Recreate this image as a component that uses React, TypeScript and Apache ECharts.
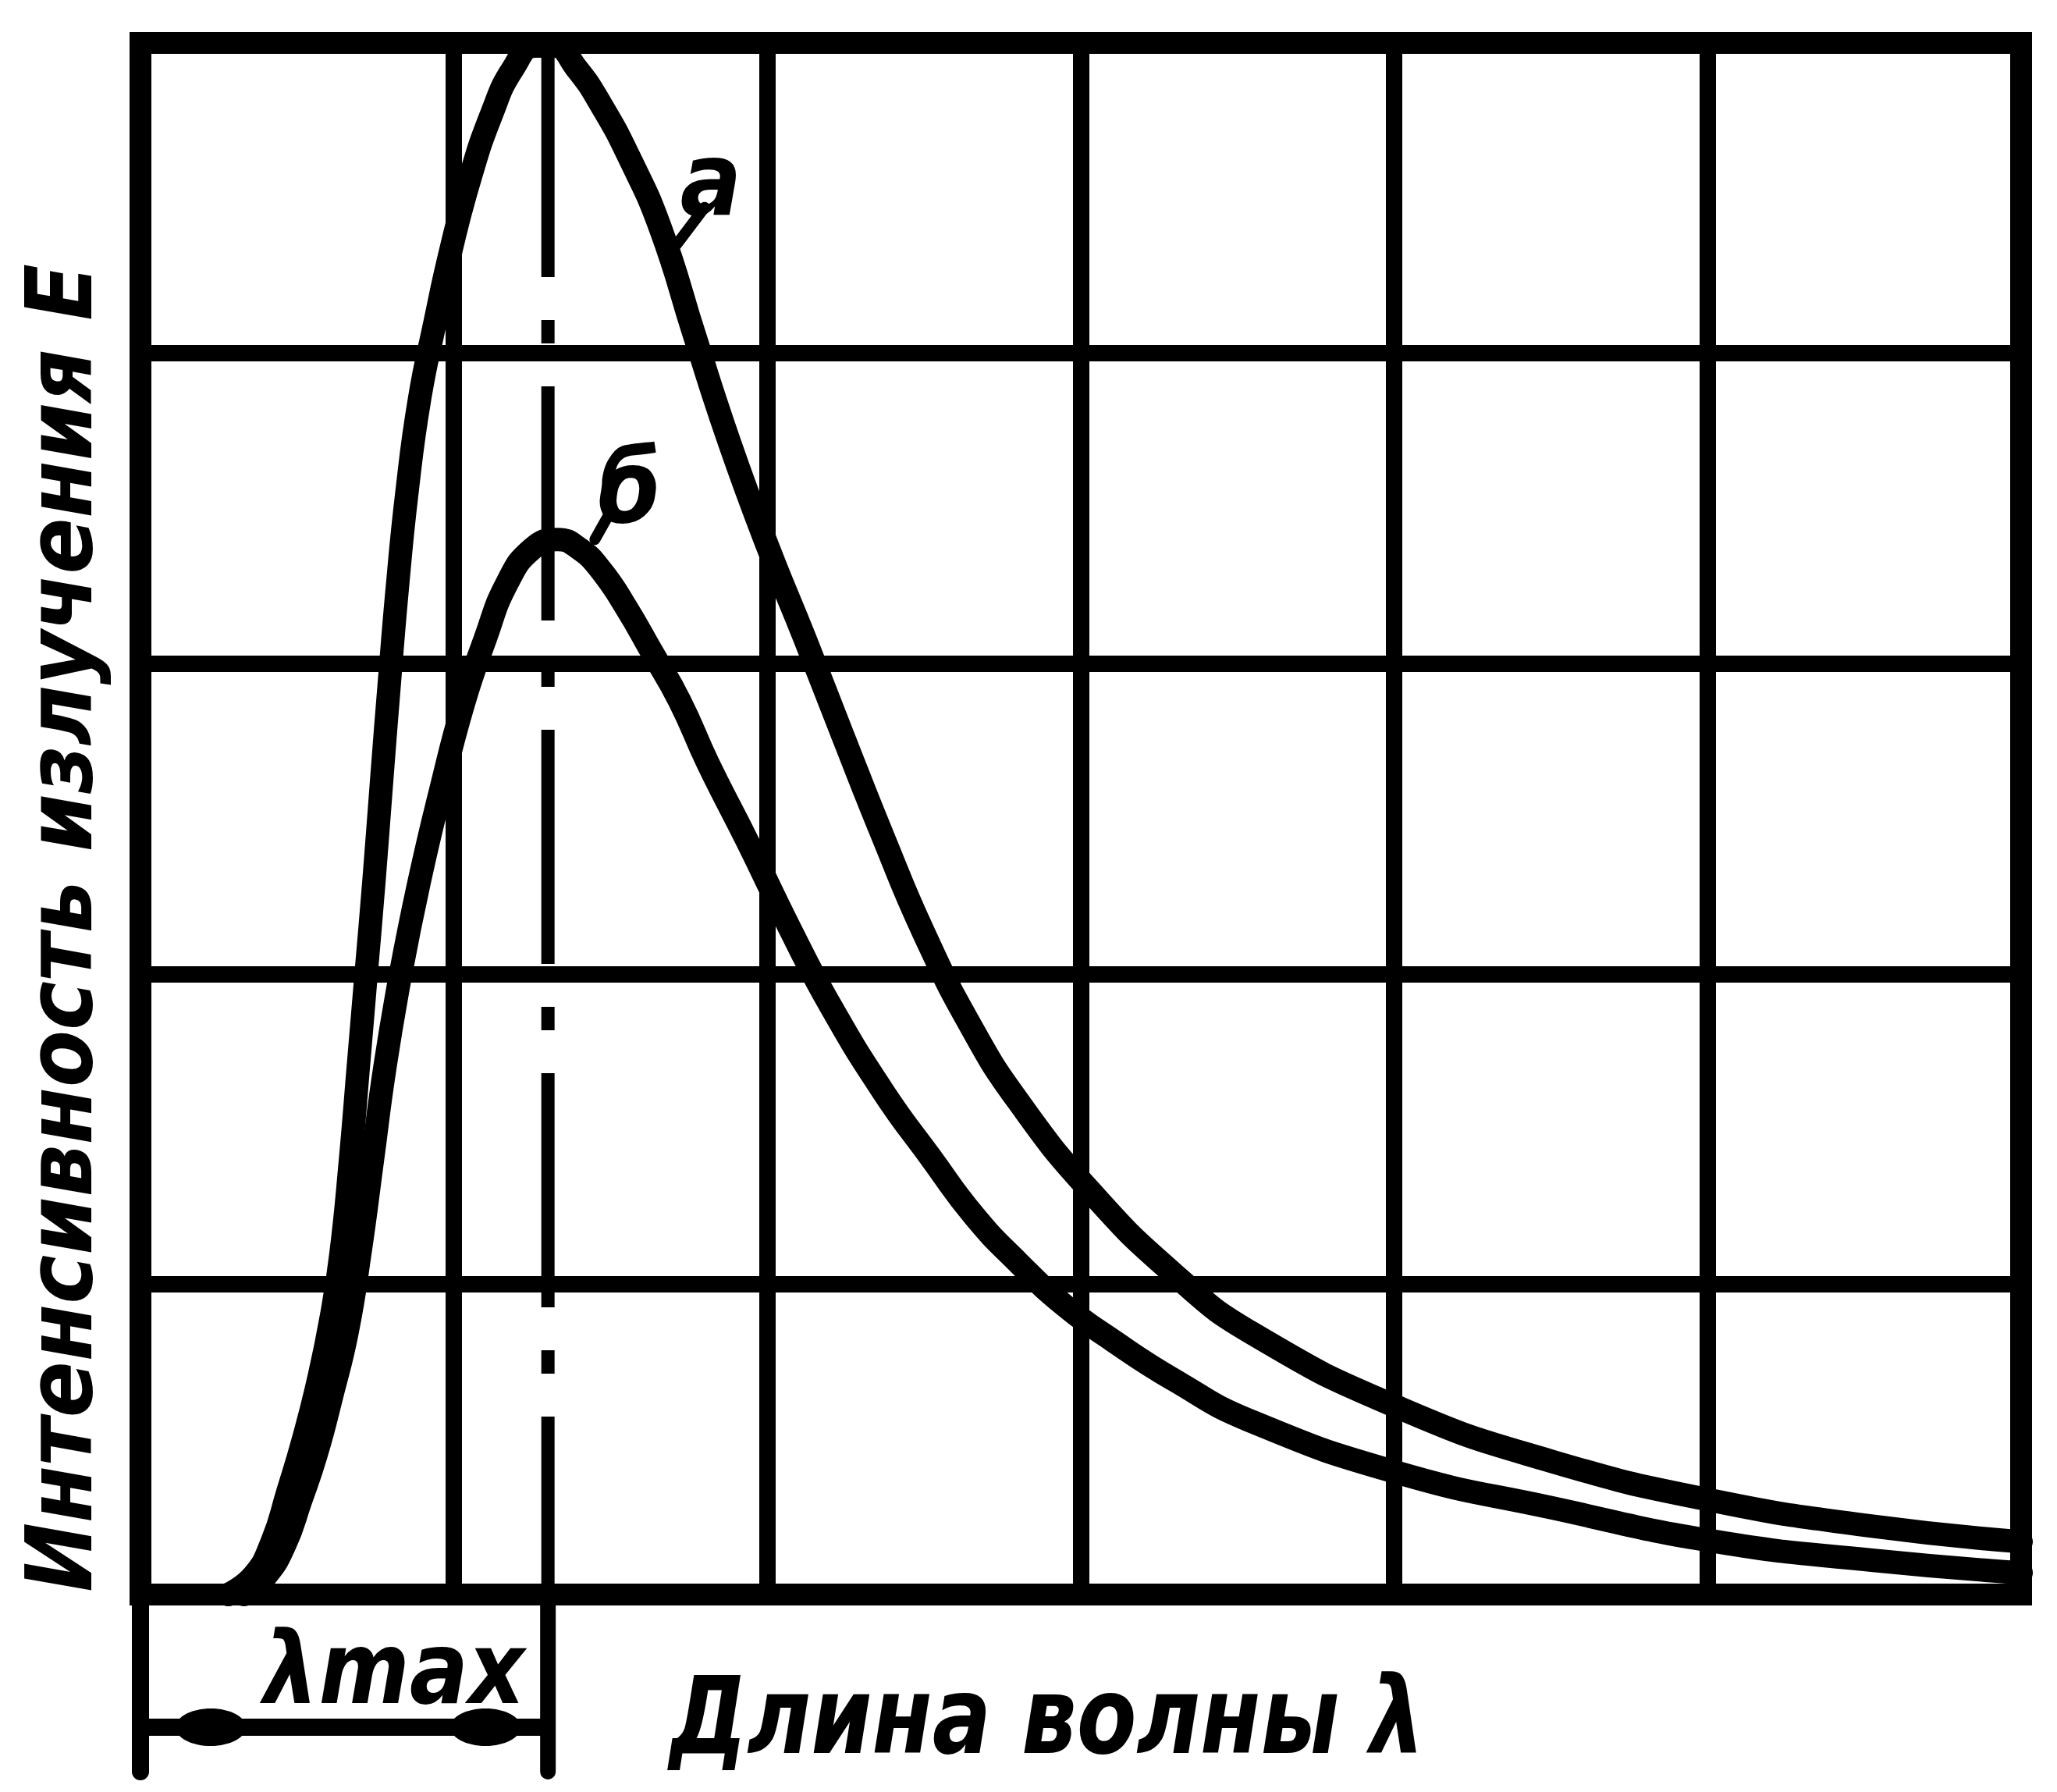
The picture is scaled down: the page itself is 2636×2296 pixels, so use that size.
import React, { useEffect, useRef } from "react";
import * as echarts from "echarts";

// Wavelength (grid units) and intensity (grid units)
const curveA: [number, number][] = [
  [0.28, 0], [0.36, 0.06], [0.42, 0.17], [0.47, 0.33], [0.52, 0.5], [0.57, 0.7],
  [0.61, 0.9], [0.64, 1.1], [0.67, 1.4], [0.695, 1.7], [0.72, 2.0], [0.745, 2.3],
  [0.77, 2.63], [0.795, 2.95], [0.82, 3.25], [0.85, 3.55], [0.89, 3.85], [0.94, 4.1],
  [0.99, 4.33], [1.05, 4.56], [1.12, 4.77], [1.19, 4.92], [1.26, 4.99], [1.32, 4.99],
  [1.39, 4.92], [1.47, 4.8], [1.56, 4.63], [1.66, 4.4], [1.77, 4.05], [1.88, 3.71],
  [2.0, 3.38], [2.12, 3.08], [2.24, 2.77], [2.37, 2.44], [2.5, 2.13], [2.65, 1.83],
  [2.8, 1.59], [3.03, 1.3], [3.3, 1.03], [3.55, 0.84], [4.02, 0.6], [4.5, 0.43],
  [5.03, 0.3], [5.53, 0.22], [6.0, 0.17],
];
const curveB: [number, number][] = [
  [0.33, 0], [0.4, 0.06], [0.46, 0.16], [0.51, 0.3], [0.56, 0.45], [0.61, 0.64],
  [0.66, 0.85], [0.7, 1.1], [0.74, 1.4], [0.78, 1.7], [0.83, 2.0], [0.89, 2.3],
  [0.96, 2.6], [1.03, 2.87], [1.1, 3.08], [1.17, 3.26], [1.25, 3.37], [1.33, 3.4],
  [1.4, 3.37], [1.47, 3.3], [1.55, 3.18], [1.63, 3.04], [1.72, 2.88], [1.81, 2.68],
  [1.94, 2.42], [2.07, 2.15], [2.2, 1.9], [2.37, 1.62], [2.52, 1.41], [2.66, 1.22],
  [2.8, 1.07], [2.95, 0.93], [3.1, 0.82], [3.3, 0.69], [3.54, 0.56], [4.02, 0.39],
  [4.5, 0.28], [5.03, 0.17], [5.53, 0.11], [6.0, 0.07],
];
const xRange = [0, 6];
const yRange = [0, 5];
const peakX = 1.3;
const curveNames = ["а", "б"];
const xAxisTitle = "Длина волны λ";
const yAxisTitle = "Интенсивность излучения E";
const peakTitle = "λmax";

const FONT = "'DejaVu Sans Condensed', 'DejaVu Sans', sans-serif";

export default function App() {
  const ref = useRef<HTMLDivElement>(null);
  useEffect(() => {
    document.body.style.margin = "0";
    const chart = echarts.init(ref.current!, null, { renderer: "svg" });
    chart.setOption({
      animation: false,
      backgroundColor: "#fff",
      grid: {
        left: 180, right: 46, top: 55, bottom: 253,
        show: true, borderColor: "#000", borderWidth: 28,
      },
      xAxis: {
        type: "value", min: xRange[0], max: xRange[1], interval: 1,
        axisLine: { show: false }, axisTick: { show: false }, axisLabel: { show: false },
        splitLine: { show: true, lineStyle: { color: "#000", width: 21 } },
      },
      yAxis: {
        type: "value", min: yRange[0], max: yRange[1], interval: 1,
        axisLine: { show: false }, axisTick: { show: false }, axisLabel: { show: false },
        splitLine: { show: true, lineStyle: { color: "#000", width: 21 } },
      },
      series: [
        {
          type: "line", name: "peak",
          data: [[peakX, yRange[1]], [peakX, yRange[0]]],
          symbol: "none",
          lineStyle: { color: "#000", width: 17, type: [300, 55, 30, 55] },
        },
        {
          type: "line", name: curveNames[0], data: curveA, symbol: "none",
          smooth: 0.5,
          lineStyle: { color: "#000", width: 30, cap: "round", join: "round" },
        },
        {
          type: "line", name: curveNames[1], data: curveB, symbol: "none",
          smooth: 0.5,
          lineStyle: { color: "#000", width: 30, cap: "round", join: "round" },
        },
      ],
    });

    const px = (x: number, y: number) => chart.convertToPixel({ gridIndex: 0 }, [x, y]) as number[];
    const [x0, yBase] = px(0, 0);
    const [xp] = px(peakX, 0);
    const extEnd = yBase + 227;
    const arrowY = yBase + 170;
    const textStyle = (t: string, size: number) => ({
      text: t, fill: "#000", font: `italic bold ${size}px ${FONT}`,
      textAlign: "center", textVerticalAlign: "middle",
    });
    const aPos = px(1.82, 4.56);
    const bPos = px(1.56, 3.57);
    const aL1 = px(1.8, 4.47), aL2 = px(1.71, 4.35);
    const bL1 = px(1.5, 3.49), bL2 = px(1.45, 3.4);
    const lineEl = (x1: number, y1: number, x2: number, y2: number, w: number) => ({
      type: "line", shape: { x1, y1, x2, y2 },
      style: { stroke: "#000", lineWidth: w, lineCap: "round" },
    });

    chart.setOption({
      graphic: [
        lineEl(x0, yBase, x0, extEnd, 22),
        lineEl(xp, yBase, xp, extEnd, 20),
        lineEl(x0 + 10, arrowY, xp - 8, arrowY, 22),
        { type: "ellipse", shape: { cx: x0 + 90, cy: arrowY, rx: 45, ry: 24 }, style: { fill: "#000" } },
        { type: "ellipse", shape: { cx: xp - 80, cy: arrowY, rx: 45, ry: 24 }, style: { fill: "#000" } },
        { type: "text", x: 505, y: yBase + 95, scaleX: 0.97, style: textStyle(peakTitle, 128) },
        { type: "text", x: 1342, y: yBase + 155, scaleX: 0.9, style: textStyle(xAxisTitle, 138) },
        { type: "text", x: 76, y: (55 + yBase) / 2 + 140, rotation: Math.PI / 2, style: textStyle(yAxisTitle, 118) },
        { type: "text", x: aPos[0], y: aPos[1], style: textStyle(curveNames[0], 130) },
        { type: "text", x: bPos[0], y: bPos[1], style: textStyle(curveNames[1], 130) },
        lineEl(aL1[0], aL1[1], aL2[0], aL2[1], 14),
        lineEl(bL1[0], bL1[1], bL2[0], bL2[1], 14),
      ],
    });
    return () => chart.dispose();
  }, []);
  return <div ref={ref} style={{ width: 2636, height: 2296, background: "#fff" }} />;
}
